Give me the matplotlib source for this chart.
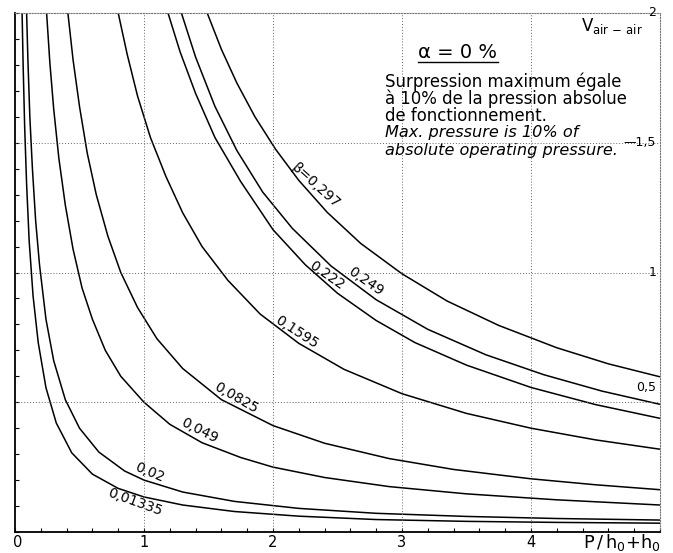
import matplotlib
matplotlib.use("Agg")
import matplotlib.pyplot as plt
from matplotlib.ticker import MultipleLocator

W, H = 673, 553

# beta value of each curve and the points read along it (P / h0+h0, V air-air)
betas = [0.01335, 0.02, 0.049, 0.0825, 0.1595, 0.222, 0.249, 0.297]

p_01335 = [0.055, 0.063, 0.075, 0.09, 0.11, 0.14, 0.18, 0.24, 0.32, 0.44, 0.6, 0.8, 1.0, 1.3, 1.7, 2.2, 2.8, 3.5, 4.2, 5.0]
v_01335 = [2.0, 1.8, 1.56, 1.34, 1.12, 0.91, 0.73, 0.556, 0.42, 0.305, 0.223, 0.168, 0.135, 0.104, 0.079, 0.061, 0.048, 0.041, 0.037, 0.034]

p_02 = [0.09, 0.1, 0.115, 0.135, 0.16, 0.19, 0.24, 0.3, 0.39, 0.5, 0.65, 0.85, 1.0, 1.3, 1.7, 2.2, 2.8, 3.5, 4.2, 5.0]
v_02 = [2.0, 1.82, 1.6, 1.4, 1.2, 1.03, 0.82, 0.66, 0.51, 0.4, 0.308, 0.235, 0.2, 0.154, 0.118, 0.091, 0.072, 0.06, 0.052, 0.046]

p_049 = [0.245, 0.27, 0.3, 0.34, 0.39, 0.45, 0.52, 0.6, 0.7, 0.82, 1.0, 1.2, 1.45, 1.75, 2.0, 2.4, 2.9, 3.5, 4.2, 5.0]
v_049 = [2.0, 1.81, 1.63, 1.44, 1.26, 1.09, 0.94, 0.82, 0.70, 0.6, 0.5, 0.415, 0.344, 0.287, 0.25, 0.21, 0.175, 0.147, 0.124, 0.104]

p_0825 = [0.41, 0.45, 0.5, 0.56, 0.63, 0.72, 0.82, 0.95, 1.1, 1.3, 1.6, 2.0, 2.4, 2.9, 3.4, 4.0, 4.5, 5.0]
v_0825 = [2.0, 1.82, 1.64, 1.46, 1.30, 1.14, 1.0, 0.865, 0.745, 0.63, 0.51, 0.41, 0.342, 0.283, 0.241, 0.205, 0.182, 0.163]

p_1595 = [0.8, 0.87, 0.95, 1.05, 1.17, 1.3, 1.45, 1.65, 1.9, 2.2, 2.55, 3.0, 3.5, 4.0, 4.5, 5.0]
v_1595 = [2.0, 1.84, 1.68, 1.52, 1.37, 1.23, 1.1, 0.97, 0.84, 0.727, 0.627, 0.533, 0.457, 0.4, 0.355, 0.319]

p_222 = [1.186, 1.28, 1.4, 1.55, 1.75, 2.0, 2.25, 2.5, 2.8, 3.1, 3.5, 4.0, 4.5, 5.0]
v_222 = [2.0, 1.85, 1.69, 1.52, 1.35, 1.165, 1.03, 0.92, 0.815, 0.73, 0.643, 0.557, 0.491, 0.438]

p_249 = [1.29, 1.4, 1.55, 1.72, 1.92, 2.15, 2.45, 2.8, 3.2, 3.65, 4.1, 4.55, 5.0]
v_249 = [2.0, 1.83, 1.64, 1.47, 1.31, 1.17, 1.025, 0.895, 0.781, 0.683, 0.606, 0.543, 0.492]

p_297 = [1.49, 1.6, 1.72, 1.86, 2.02, 2.2, 2.42, 2.68, 3.0, 3.35, 3.75, 4.2, 4.6, 5.0]
v_297 = [2.0, 1.86, 1.73, 1.6, 1.475, 1.355, 1.232, 1.112, 0.995, 0.89, 0.796, 0.71, 0.648, 0.598]

curves = [(p_01335, v_01335), (p_02, v_02), (p_049, v_049), (p_0825, v_0825),
          (p_1595, v_1595), (p_222, v_222), (p_249, v_249), (p_297, v_297)]

# curve labels: text, position, rotation
label_texts = ["0,01335", "0,02", "0,049", "0,0825", "0,1595", "0,222", "0,249", "\u03b2=0,297"]
label_pos = [(0.93, 0.115), (1.04, 0.231), (1.426, 0.392), (1.71, 0.515),
             (2.18, 0.77), (2.42, 0.99), (2.72, 0.965), (2.33, 1.335)]
label_rot = [-20, -23, -27, -30, -33, -35, -35, -42]

x_ticks = [0, 1, 2, 3, 4]
y_ticks = [0.5, 1, 1.5, 2]
y_tick_labels = ["0,5", "1", "\u20141,5", "2"]

fig = plt.figure(figsize=(W / 100, H / 100), dpi=100)
ax = fig.add_axes([15 / W, 21 / H, 645 / W, 519 / H])
ax.set_xlim(0, 5)
ax.set_ylim(0, 2)

for (p, v) in curves:
    ax.plot(p, v, color="black", lw=1.1, solid_capstyle="butt")

# dotted grid
for gx in x_ticks[1:]:
    ax.axvline(gx, color="#666666", lw=0.7, ls=(0, (1, 2)))
for gy in y_ticks[:-1]:
    ax.axhline(gy, color="#666666", lw=0.7, ls=(0, (1, 2)))

for s in ["left", "bottom"]:
    ax.spines[s].set_linewidth(1.3)
for s in ["top", "right"]:
    ax.spines[s].set_linestyle((0, (1, 1.5)))
    ax.spines[s].set_color("#777777")
    ax.spines[s].set_linewidth(0.8)

ax.set_xticks([])
ax.set_yticks([])
ax.xaxis.set_minor_locator(MultipleLocator(0.2))
ax.yaxis.set_minor_locator(MultipleLocator(0.1))
ax.tick_params(which="minor", direction="in", length=3, width=0.8,
               bottom=True, left=True, top=False, right=False)

for lt, (lx, ly), lr in zip(label_texts, label_pos, label_rot):
    ax.text(lx, ly, lt, rotation=lr, rotation_mode="anchor", ha="center",
            va="center", fontsize=10)

# x tick labels under the axis
for xt in x_ticks:
    ax.text(xt + (0.02 if xt == 0 else 0), -0.042, str(xt), ha="center", va="center",
            fontsize=10.5)
ax.text(4.40, -0.042, r"P$\,$/$\,$h$_\mathregular{0}$+h$_\mathregular{0}$", ha="left",
        va="center", fontsize=12.8, clip_on=False)

# right hand scale labels, inside the frame
for yt, yl in zip(y_ticks, y_tick_labels):
    ax.text(4.97, yt + (0.03 if yt == 0.5 else 0), yl, ha="right",
            va="bottom" if yt == 0.5 else "center", fontsize=9)
ax.text(4.87, 1.95, r"V$_\mathregular{air\,-\,air}$", ha="right", va="center",
        fontsize=12)

# heading and note
fig.text(458 / W, 1 - 52 / H, "\u03b1 = 0 %", ha="center", va="center", fontsize=14)
fig.add_artist(plt.Line2D([418 / W, 498 / W], [1 - 62 / H, 1 - 62 / H], color="black", lw=1.0))
note = ["Surpression maximum égale", "à 10% de la pression absolue",
        "de fonctionnement."]
note_en = ["Max. pressure is 10% of", "absolute operating pressure."]
for i, line in enumerate(note):
    fig.text(385 / W, 1 - (82 + 17 * i) / H, line, ha="left", va="center", fontsize=11.9)
for i, line in enumerate(note_en):
    fig.text(385 / W, 1 - (133 + 17 * i) / H, line, ha="left", va="center",
             fontsize=11.6, style="italic")

fig.savefig("out.png", dpi=100)
